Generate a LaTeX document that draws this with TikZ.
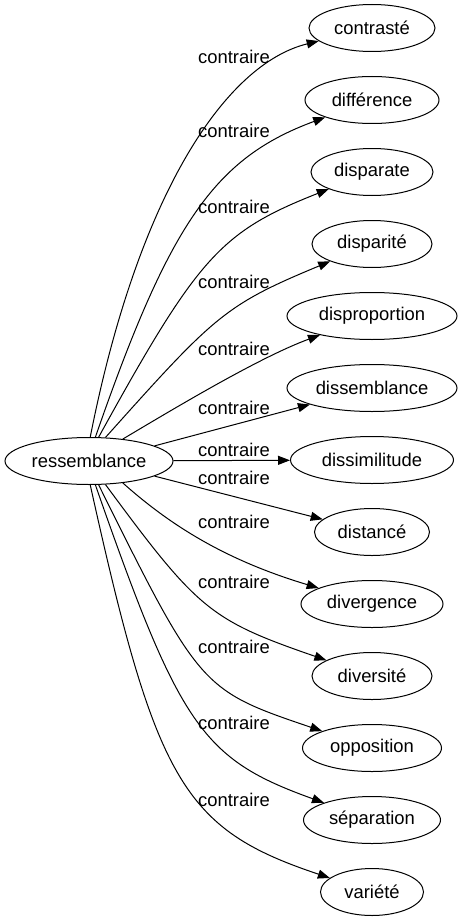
\documentclass[tikz,border=0pt]{standalone}
\usepackage{fontspec}
\setmainfont{Liberation Sans}
\usetikzlibrary{arrows.meta,shapes.geometric}
\begin{document}
\begin{tikzpicture}[x=1pt,y=-1pt,
  ent/.style={draw, ellipse, minimum height=47pt, inner sep=0pt, line width=1pt,
    font=\fontsize{18.4}{20}\selectfont},
  rel/.style={font=\fontsize{18.4}{20}\selectfont, inner sep=0pt},
  conn/.style={draw, line width=1pt, -{Triangle[length=12pt,width=9pt]}}
]
\useasboundingbox (0,0) rectangle (461,923);
% nodes
\node[ent, minimum width=168pt] (src) at (89,461) {ressemblance};
\node[ent, minimum width=126pt] (t1)  at (372,28)  {contrasté};
\node[ent, minimum width=134pt] (t2)  at (372,100) {différence};
\node[ent, minimum width=122pt] (t3)  at (372,172) {disparate};
\node[ent, minimum width=120pt] (t4)  at (372,244) {disparité};
\node[ent, minimum width=170pt] (t5)  at (372,316) {disproportion};
\node[ent, minimum width=170pt] (t6)  at (372,388) {dissemblance};
\node[ent, minimum width=163pt] (t7)  at (372,460) {dissimilitude};
\node[ent, minimum width=115pt] (t8)  at (372,532) {distancé};
\node[ent, minimum width=142pt] (t9)  at (372,604) {divergence};
\node[ent, minimum width=120pt] (t10) at (372,676) {diversité};
\node[ent, minimum width=139pt] (t11) at (372,748) {opposition};
\node[ent, minimum width=137pt] (t12) at (372,820) {séparation};
\node[ent, minimum width=103pt] (t13) at (372,892) {variété};
% connectors
\path[conn] (src.87) .. controls (138,195) and (225,64) .. (t1);
\path[conn] (src.75) .. controls (170,222) and (215,158) .. (t2);
\path[conn] (src.68) .. controls (198,257) and (220,232) .. (t3);
\path[conn] (src.55) .. controls (215,315) and (225,305) .. (t4);
\path[conn] (src.33) .. controls (175,408) and (260,357) .. (t5);
\path[conn] (src.13) -- (t6);
\path[conn] (src) -- (t7);
\path[conn] (src.-13) -- (t8);
\path[conn] (src.-33) .. controls (170,525) and (225,560) .. (t9);
\path[conn] (src.-55) .. controls (198,610) and (210,620) .. (t10);
\path[conn] (src.-68) .. controls (200,689) and (201,690) .. (t11);
\path[conn] (src.-75) .. controls (180,727) and (202,759) .. (t12);
\path[conn] (src.-87) .. controls (156,782) and (183,829) .. (t13);
% labels
\node[rel] (l1)  at (234,57)  {contraire};
\node[rel] (l2)  at (234,131) {contraire};
\node[rel] (l3)  at (234,207) {contraire};
\node[rel] (l4)  at (234,282) {contraire};
\node[rel] (l5)  at (234,349) {contraire};
\node[rel] (l6)  at (234,408) {contraire};
\node[rel] (l7)  at (234,450) {contraire};
\node[rel] (l8)  at (234,478) {contraire};
\node[rel] (l9)  at (234,522) {contraire};
\node[rel] (l10) at (234,582) {contraire};
\node[rel] (l11) at (234,647) {contraire};
\node[rel] (l12) at (234,723) {contraire};
\node[rel] (l13) at (234,800) {contraire};
\end{tikzpicture}
\end{document}
